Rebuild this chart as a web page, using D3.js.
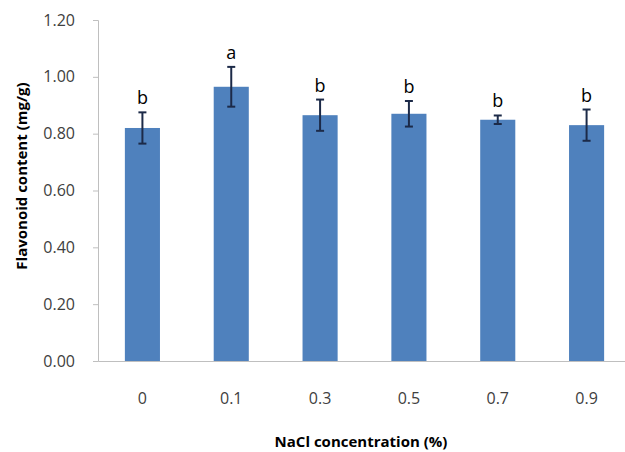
<!DOCTYPE html>
<html>
<head>
<meta charset="utf-8">
<script src="https://cdn.jsdelivr.net/npm/d3@7"></script>
<style>
  html, body { margin: 0; padding: 0; background: #fff; }
  svg { display: block; }
  text { font-family: "Open Sans", "Noto Sans", sans-serif; }
</style>
</head>
<body>
<svg id="chart" width="625" height="452"></svg>
<script>
// NaCl treatments and measured flavonoid content (mean ± SD) with significance letters
const categories = ["0", "0.1", "0.3", "0.5", "0.7", "0.9"];
const means      = [0.82, 0.965, 0.865, 0.87, 0.849, 0.83];
const errors     = [0.055, 0.07, 0.055, 0.045, 0.015, 0.055];
const letters    = ["b", "a", "b", "b", "b", "b"];
const yTicks     = [0, 0.2, 0.4, 0.6, 0.8, 1.0, 1.2];

const svg = d3.select("#chart");
const plotLeft = 98, plotRight = 631, plotTop = 20, plotBottom = 361;

const x = d3.scaleBand().domain(categories).range([plotLeft, plotRight])
  .paddingInner(0.605).paddingOuter(0.3025);
const y = d3.scaleLinear().domain([0, 1.2]).range([plotBottom, plotTop]);

const axisColor = "#bfbfbf";
const textColor = "#404040";

// Y axis
const yAxis = svg.append("g").attr("transform", `translate(${plotLeft},0)`)
  .call(d3.axisLeft(y).tickValues(yTicks).tickFormat(d3.format(".2f")).tickSize(5).tickPadding(18));
yAxis.select(".domain").attr("stroke", axisColor);
yAxis.selectAll(".tick line").attr("stroke", axisColor);
yAxis.selectAll(".tick text").attr("fill", textColor).style("font-size", "16px");

// X axis
const xAxis = svg.append("g").attr("transform", `translate(0,${plotBottom})`)
  .call(d3.axisBottom(x).tickSize(0).tickPadding(32).tickSizeOuter(0));
xAxis.select(".domain").attr("stroke", axisColor);
xAxis.selectAll(".tick text").attr("fill", textColor).style("font-size", "16px");

// Bars
svg.append("g").selectAll("rect").data(categories).join("rect")
  .attr("x", d => x(d))
  .attr("width", x.bandwidth())
  .attr("y", (d, i) => y(means[i]))
  .attr("height", (d, i) => y(0) - y(means[i]))
  .attr("fill", "#4f81bd");

// Error bars
const eb = svg.append("g").attr("stroke", "#1c2a48").attr("stroke-width", 2);
categories.forEach((c, i) => {
  const cx = x(c) + x.bandwidth() / 2;
  const hi = y(means[i] + errors[i]), lo = y(means[i] - errors[i]);
  eb.append("line").attr("x1", cx).attr("x2", cx).attr("y1", hi).attr("y2", lo);
  eb.append("line").attr("x1", cx - 4).attr("x2", cx + 4).attr("y1", hi).attr("y2", hi);
  eb.append("line").attr("x1", cx - 4).attr("x2", cx + 4).attr("y1", lo).attr("y2", lo);
});

// Significance letters
svg.append("g").selectAll("text").data(categories).join("text")
  .attr("x", d => x(d) + x.bandwidth() / 2)
  .attr("y", (d, i) => y(means[i] + errors[i]) - 8)
  .attr("text-anchor", "middle")
  .attr("fill", "#000")
  .style("font-size", "18px")
  .text((d, i) => letters[i]);

// Axis titles
svg.append("text")
  .attr("x", 361).attr("y", 447)
  .attr("text-anchor", "middle")
  .attr("fill", "#000")
  .style("font-size", "15px").style("font-weight", "bold")
  .text("NaCl concentration (%)");

svg.append("text")
  .attr("transform", "translate(27,176) rotate(-90)")
  .attr("text-anchor", "middle")
  .attr("fill", "#000")
  .style("font-size", "15px").style("font-weight", "bold")
  .text("Flavonoid content (mg/g)");
</script>
</body>
</html>
